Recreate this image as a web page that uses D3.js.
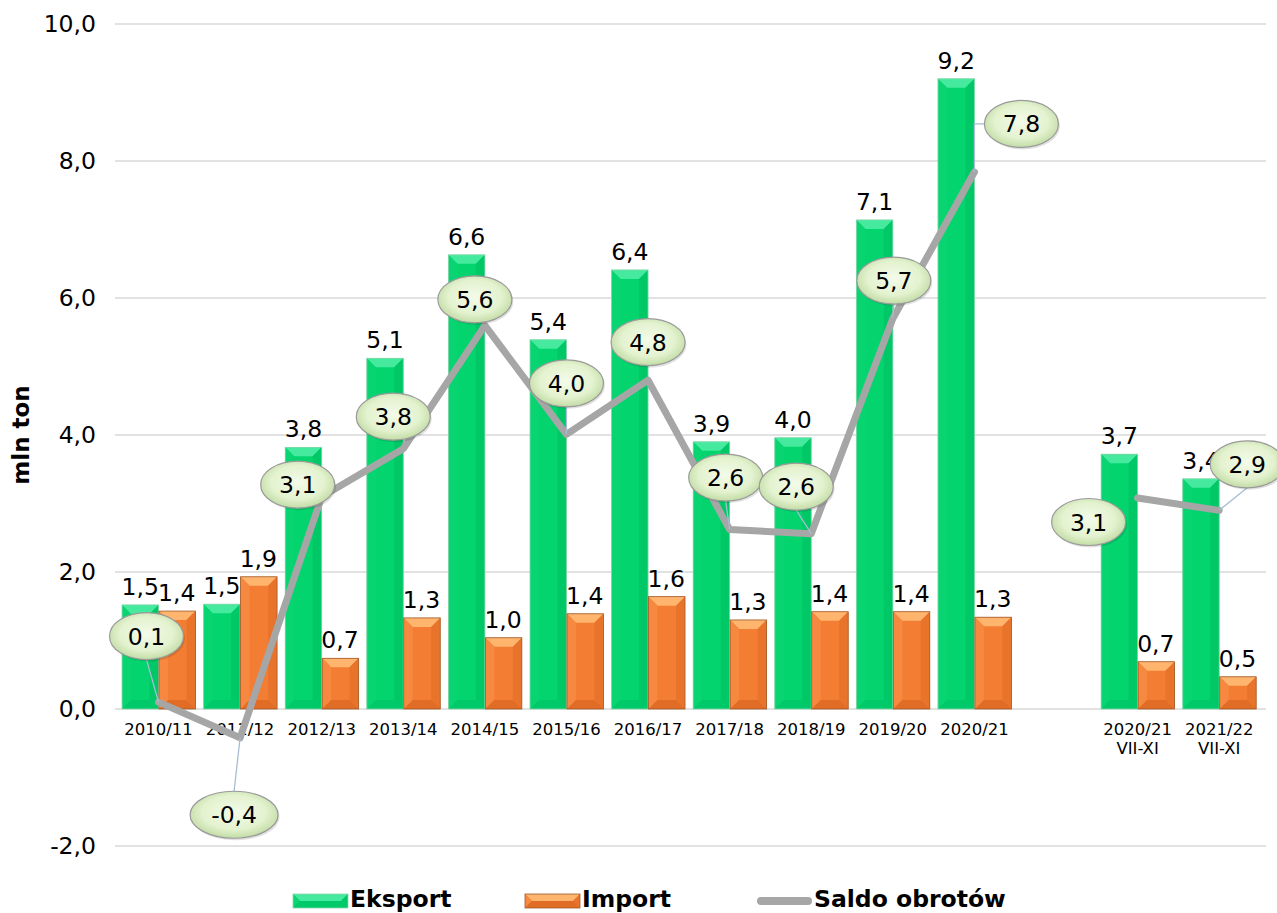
<!DOCTYPE html>
<html><head><meta charset="utf-8">
<script src="https://cdn.jsdelivr.net/npm/d3@7/dist/d3.min.js"></script>
<style>
html,body{margin:0;padding:0;background:#fff;}
svg{display:block;font-family:Verdana,"DejaVu Sans",sans-serif;}
</style></head>
<body><svg id="chart" width="1277" height="913"></svg>
<script>
// ---- data ----
const categories = ["2010/11","2011/12","2012/13","2013/14","2014/15","2015/16","2016/17","2017/18","2018/19","2019/20","2020/21",null,"2020/21\nVII-XI","2021/22\nVII-XI"];
const eksport = [1.52,1.53,3.82,5.12,6.63,5.39,6.41,3.90,3.96,7.14,9.20,null,3.72,3.36];
const importV = [1.43,1.93,0.74,1.33,1.04,1.39,1.64,1.30,1.42,1.42,1.34,null,0.69,0.47];
const saldo   = [0.10,-0.42,3.10,3.80,5.60,4.01,4.80,2.62,2.56,5.70,7.84,null,3.08,2.90];
const yTicks  = [-2,0,2,4,6,8,10];
const seriesNames = ["Eksport","Import","Saldo obrotów"];
const yTitle = "mln ton";

// ---- layout (label bubble offsets from their points, px) ----
const bubbleOffsets = [[-12,-66,"b"],[-6,77,"t"],[-24,-12,"n"],[-10,-32,"n"],[-10,-26,"n"],[0,-51,"b"],[0,-38,"n"],[-4,-52,"b"],[-15,-47,"b"],[1,-38,"b"],[47,-48,"l"],null,[-49,24,"n"],[28,-46,"b"]];

const svg = d3.select("#chart");
const locale = d3.formatLocale({decimal:",",thousands:" ",grouping:[3],currency:["",""],minus:"-"});
const fmt = locale.format(".1f");

const x = d3.scaleBand().domain(d3.range(categories.length)).range([117.7,1260]).padding(0);
const y = d3.scaleLinear().domain([-2,10]).range([846,24]);
const cx = i => x(i) + x.bandwidth()/2;
const bw = x.bandwidth()*0.447;

// defs
const defs = svg.append("defs");
const rg = defs.append("radialGradient").attr("id","bub").attr("cx","50%").attr("cy","45%").attr("r","60%");
rg.append("stop").attr("offset","0%").attr("stop-color","#f3fbe9");
rg.append("stop").attr("offset","60%").attr("stop-color","#e3f2cf");
rg.append("stop").attr("offset","100%").attr("stop-color","#b9d69a");

// grid
svg.append("g").selectAll("line").data(yTicks).join("line")
  .attr("x1",115).attr("x2",1266)
  .attr("y1",d=>y(d)).attr("y2",d=>y(d))
  .attr("stroke","#d9d9d9").attr("stroke-width",1.5);

// y axis labels via d3 axis
const yAxis = svg.append("g").attr("transform","translate(96,0)")
  .call(d3.axisLeft(y).tickValues(yTicks).tickFormat(fmt).tickSize(0).tickPadding(0));
yAxis.select(".domain").remove();
yAxis.selectAll("text").attr("font-size",23.5).attr("fill","#000")
  .attr("font-family",'Verdana,"DejaVu Sans",sans-serif');

// y title
svg.append("text").attr("transform","translate(29,435) rotate(-90)")
  .attr("text-anchor","middle").attr("font-weight","bold").attr("font-size",23).text(yTitle);

// bevel bar drawing
const palettes = {
  g:{face:"#03d46e",top:"#45ea9e",left:"#08d571",right:"#00c867",bottom:"#00c96a",stroke:"#8ad8ae"},
  o:{face:"#f27d33",top:"#ffb56e",left:"#f6893f",right:"#e8742c",bottom:"#e06c26",stroke:"#a05a2a"}
};
function bevelBar(g, x0, yTop, w, h, pal){
  const b = Math.min(9, h/2, w/2);
  const x1 = x0+w, yb = yTop+h;
  g.append("rect").attr("x",x0).attr("y",yTop).attr("width",w).attr("height",h).attr("fill",pal.face);
  g.append("path").attr("d",`M${x0},${yTop}L${x1},${yTop}L${x1-b},${yTop+b}L${x0+b},${yTop+b}Z`).attr("fill",pal.top);
  g.append("path").attr("d",`M${x0},${yTop}L${x0+b},${yTop+b}L${x0+b},${yb-b}L${x0},${yb}Z`).attr("fill",pal.left);
  g.append("path").attr("d",`M${x1},${yTop}L${x1-b},${yTop+b}L${x1-b},${yb-b}L${x1},${yb}Z`).attr("fill",pal.right);
  g.append("path").attr("d",`M${x0},${yb}L${x0+b},${yb-b}L${x1-b},${yb-b}L${x1},${yb}Z`).attr("fill",pal.bottom);
  g.append("rect").attr("x",x0).attr("y",yTop).attr("width",w).attr("height",h)
    .attr("fill","none").attr("stroke",pal.stroke).attr("stroke-width",0.8);
}

const bars = svg.append("g");
eksport.forEach((v,i)=>{ if(v==null) return;
  bevelBar(bars, cx(i)-bw, y(v), bw, y(0)-y(v), palettes.g); });
importV.forEach((v,i)=>{ if(v==null) return;
  bevelBar(bars, cx(i)+0.5, y(v), bw, y(0)-y(v), palettes.o); });

// bar value labels
const vl = svg.append("g").attr("font-size",23.5).attr("text-anchor","middle").attr("fill","#000");
eksport.forEach((v,i)=>{ if(v==null) return;
  vl.append("text").attr("x",cx(i)-bw/2).attr("y",y(v)-10).text(fmt(v)); });
importV.forEach((v,i)=>{ if(v==null) return;
  vl.append("text").attr("x",cx(i)+bw/2).attr("y",y(v)-10).text(fmt(v)); });

// x category labels
const xl = svg.append("g").attr("font-size",16.5).attr("text-anchor","middle").attr("fill","#000");
categories.forEach((c,i)=>{ if(c==null) return;
  const lines = c.split("\n");
  lines.forEach((t,k)=> xl.append("text").attr("x",cx(i)).attr("y",735+k*19).text(t)); });

// saldo line
const line = d3.line().defined(d=>d.v!=null).x(d=>cx(d.i)).y(d=>y(d.v));
const sd = saldo.map((v,i)=>({v,i}));
svg.append("path").attr("d",line(sd)).attr("fill","none").attr("stroke","#a6a6a6")
  .attr("stroke-width",7).attr("stroke-linejoin","round").attr("stroke-linecap","round");

// bubbles with leader lines
const rx=37, ry=23.5;
const bub = svg.append("g");
sd.forEach(d=>{ if(d.v==null) return;
  const off = bubbleOffsets[d.i];
  const px = cx(d.i), py = y(d.v);
  const bx = px+off[0], by = py+off[1];
  const label = fmt(d.v);
  const erx = label.length>3 ? 44 : rx;
  const mode = off[2];
  let path=null;
  if(mode==="b") path=`M${bx},${by+ry}L${px},${py}`;
  else if(mode==="t") path=`M${bx},${by-ry}L${px},${py}`;
  else if(mode==="l") path=`M${bx-erx},${by}L${px},${by}L${px},${py}`;
  if(path) bub.append("path").attr("d",path).attr("fill","none").attr("stroke","#a9bcd4").attr("stroke-width",1.3);
  bub.append("ellipse").attr("cx",bx+1.5).attr("cy",by+2).attr("rx",erx).attr("ry",ry).attr("fill","#000").attr("opacity",0.12);
  bub.append("ellipse").attr("cx",bx).attr("cy",by).attr("rx",erx).attr("ry",ry)
    .attr("fill","url(#bub)").attr("stroke","#9a9a9a").attr("stroke-width",1.2);
  bub.append("text").attr("x",bx).attr("y",by+8.5).attr("text-anchor","middle").attr("font-size",23.5).text(label);
});

// legend
const lg = svg.append("g").attr("font-size",23.5).attr("font-weight","bold")
  .attr("font-family",'"DejaVu Sans",Verdana,sans-serif');
const lx = [293,525,757];
bevelBar(lg, lx[0], 894, 55, 14, palettes.g);
bevelBar(lg, lx[1], 894, 55, 14, palettes.o);
lg.append("line").attr("x1",lx[2]+4).attr("x2",lx[2]+51).attr("y1",901).attr("y2",901)
  .attr("stroke","#a6a6a6").attr("stroke-width",8).attr("stroke-linecap","round");
seriesNames.forEach((n,k)=> lg.append("text").attr("x",lx[k]+57).attr("y",907).text(n));
</script></body></html>
